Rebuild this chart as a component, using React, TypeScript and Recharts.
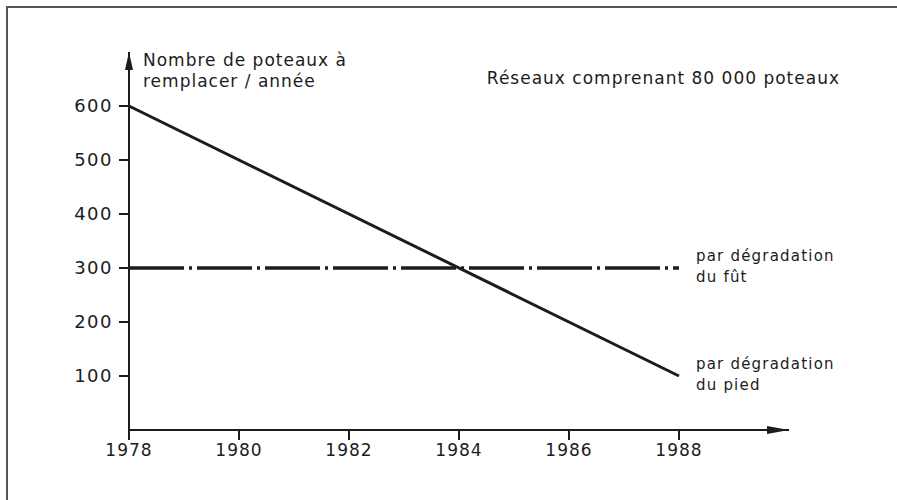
import { LineChart, Line, XAxis, YAxis } from 'recharts';

const years = [1978, 1988];
const footDecay = [600, 100];
const shaftDecay = [300, 300];
const xTicks = [1978, 1980, 1982, 1984, 1986, 1988];
const yTicks = [100, 200, 300, 400, 500, 600];
const yTitle = ['Nombre de poteaux à', 'remplacer / année'];
const footLabel = ['par dégradation', 'du pied'];
const shaftLabel = ['par dégradation', 'du fût'];
const subtitle = 'Réseaux comprenant 80 000 poteaux';

const INK = '#1c1c1c';
const FONT = '"DejaVu Sans", sans-serif';

const data = years.map((year, i) => ({
  year,
  pied: footDecay[i],
  fut: shaftDecay[i],
}));

// two-line label placed to the right of the last point of a series
function endLabel(lines: string[]) {
  return (props: any) => {
    if (props.index !== data.length - 1) return <g />;
    return (
      <text
        x={props.x + 17}
        y={props.y - 7}
        fill={INK}
        fontSize={15}
        fontFamily={FONT}
        letterSpacing={1.2}
      >
        <tspan x={props.x + 17} dy={0}>{lines[0]}</tspan>
        <tspan x={props.x + 17} dy={21}>{lines[1]}</tspan>
      </text>
    );
  };
}

function AxisTitle(props: any) {
  const vb = props.viewBox || {};
  const x = vb.x + vb.width + 14;
  return (
    <text x={x} y={vb.y + 14} fill={INK} fontSize={17} fontFamily={FONT} letterSpacing={1}>
      <tspan x={x} dy={0}>{yTitle[0]}</tspan>
      <tspan x={x} dy={21}>{yTitle[1]}</tspan>
    </text>
  );
}

export default function App() {
  return (
    <div
      style={{
        position: 'absolute',
        left: 0,
        top: 0,
        width: 897,
        height: 500,
        background: '#fff',
        overflow: 'hidden',
      }}
    >
      {/* frame of the original figure (only top and left edges visible) */}
      <div
        style={{
          position: 'absolute',
          left: 6,
          top: 6,
          width: 891,
          height: 494,
          borderTop: '2px solid #555',
          borderLeft: '2px solid #555',
          boxSizing: 'border-box',
        }}
      />
      <div
        style={{
          position: 'absolute',
          right: 57,
          top: 68,
          fontFamily: FONT,
          fontSize: 17,
          letterSpacing: 1,
          color: INK,
          whiteSpace: 'nowrap',
        }}
      >
        {subtitle}
      </div>
      <LineChart
        width={897}
        height={500}
        data={data}
        margin={{ top: 52, right: 108, left: 69, bottom: 40 }}
        style={{ position: 'absolute', left: 0, top: 0 }}
      >
        <defs>
          <marker
            id="arrowX"
            viewBox="0 0 22 8"
            refX="22"
            refY="4"
            markerWidth="22"
            markerHeight="8"
            markerUnits="userSpaceOnUse"
            orient="auto-start-reverse"
          >
            <path d="M0,0 L22,4 L0,8 z" fill={INK} />
          </marker>
          <marker
            id="arrowY"
            viewBox="0 0 18 8"
            refX="18"
            refY="4"
            markerWidth="18"
            markerHeight="8"
            markerUnits="userSpaceOnUse"
            orient="auto-start-reverse"
          >
            <path d="M0,0 L18,4 L0,8 z" fill={INK} />
          </marker>
        </defs>
        <XAxis
          dataKey="year"
          type="number"
          domain={[1978, 1990]}
          ticks={xTicks}
          height={30}
          tickSize={10}
          tickMargin={4}
          tickLine={{ stroke: INK, strokeWidth: 2 }}
          axisLine={{ stroke: INK, strokeWidth: 2, markerEnd: 'url(#arrowX)' }}
          tick={{ fill: INK, fontSize: 17, fontFamily: FONT, letterSpacing: 1 }}
        />
        <YAxis
          type="number"
          domain={[0, 700]}
          ticks={yTicks}
          width={60}
          tickSize={10}
          tickMargin={6}
          tickLine={{ stroke: INK, strokeWidth: 2 }}
          axisLine={{ stroke: INK, strokeWidth: 2, markerStart: 'url(#arrowY)' }}
          tick={{ fill: INK, fontSize: 18, fontFamily: FONT, letterSpacing: 1.5 }}
          label={<AxisTitle />}
        />
        <Line
          dataKey="fut"
          stroke={INK}
          strokeWidth={3.5}
          strokeDasharray="55 5 3 5"
          dot={false}
          isAnimationActive={false}
          label={endLabel(shaftLabel)}
        />
        <Line
          dataKey="pied"
          stroke={INK}
          strokeWidth={3}
          dot={false}
          isAnimationActive={false}
          label={endLabel(footLabel)}
        />
      </LineChart>
    </div>
  );
}
